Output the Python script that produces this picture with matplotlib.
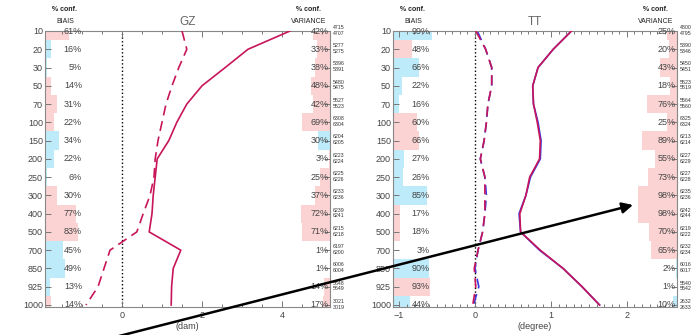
import numpy as np
import matplotlib.pyplot as plt
from matplotlib.ticker import MultipleLocator
from matplotlib.patches import FancyArrowPatch

plt.rcParams['font.family'] = ['Liberation Sans', 'DejaVu Sans']

levels = ['10', '20', '30', '50', '70', '100', '150', '200', '250', '300',
          '400', '500', '700', '850', '925', '1000']

# GZ panel
gz_std_red = [4.2, 3.15, 2.58, 2.0, 1.62, 1.37, 1.17, 0.88, 0.83, 0.78,
              0.75, 0.68, 1.47, 1.28, 1.24, 1.23]
gz_bias_red = [1.5, 1.62, 1.42, 1.25, 1.1, 1.0, 0.9, 0.83, 0.8, 0.7,
               0.53, 0.37, -0.3, -0.45, -0.6, -0.9]
gz_bias_pct = [61, 16, 5, 14, 31, 22, 34, 22, 6, 30, 77, 83, 45, 49, 13, 14]
gz_bias_sign = [1, -1, -1, 1, 1, 1, -1, -1, -1, 1, 1, 1, -1, -1, -1, 1]
gz_var_pct = [42, 33, 38, 48, 42, 69, 30, 3, 25, 37, 72, 71, 1, 1, 14, 17]
gz_var_sign = [1, 1, 1, 1, 1, 1, -1, 1, 1, 1, 1, 1, -1, -1, 1, 1]
gz_count_a = [4715, 5277, 5396, 5480, 5527, 6308, 6204, 6223, 6225, 6233,
              6239, 6215, 6197, 6006, 5648, 3021]
gz_count_b = [4707, 5275, 5391, 5475, 5523, 6304, 6205, 6224, 6226, 6236,
              6241, 6218, 6200, 6004, 5649, 3019]

# TT panel
tt_std_red = [1.27, 1.03, 0.83, 0.76, 0.77, 0.82, 0.86, 0.85, 0.72, 0.67,
              0.59, 0.60, 0.86, 1.16, 1.41, 1.64]
tt_std_blue = [1.27, 1.03, 0.83, 0.76, 0.77, 0.83, 0.87, 0.86, 0.73, 0.67,
               0.58, 0.60, 0.85, 1.16, 1.41, 1.64]
tt_bias_red = [0.01, 0.14, 0.22, 0.22, 0.17, 0.15, 0.12, 0.07, 0.13, 0.13,
               0.13, 0.10, 0.04, -0.01, 0.01, -0.03]
tt_bias_blue = [0.03, 0.14, 0.22, 0.22, 0.17, 0.15, 0.12, 0.07, 0.13, 0.15,
                0.13, 0.10, 0.04, 0.0, 0.05, -0.02]
tt_bias_pct = [99, 48, 66, 22, 16, 60, 66, 27, 26, 85, 17, 18, 3, 90, 93, 44]
tt_bias_sign = [-1, 1, -1, -1, -1, 1, 1, -1, -1, -1, 1, 1, -1, -1, 1, -1]
tt_var_pct = [25, 20, 43, 18, 76, 25, 89, 55, 73, 98, 98, 70, 65, 2, 1, 10]
tt_var_sign = [1, 1, 1, 1, 1, 1, 1, 1, 1, 1, 1, 1, 1, -1, -1, -1]
tt_count_a = [4800, 5390, 5450, 5523, 5564, 6325, 6213, 6227, 6227, 6235,
              6242, 6219, 6232, 6016, 5540, 2632]
tt_count_b = [4795, 5346, 5451, 5519, 5560, 6324, 6214, 6229, 6228, 6236,
              6244, 6222, 6234, 6017, 5542, 2633]

PINK = '#fbd3d3'
BLUE = '#bdebfa'
RED = '#c8155a'
NAVY = '#3a3ae0'
TXT = '#444444'


def draw_panel(ax, title, unit, xlim, major, minor, std, bias, bias_pct,
               bias_sign, var_pct, var_sign, count_a, count_b,
               std_blue=None, bias_blue=None):
    y = np.arange(len(levels))
    span = xlim[1] - xlim[0]
    frac = 0.14

    # confidence bars
    bw = np.array(bias_pct) / 100 * frac * span
    ax.barh(y, bw, left=xlim[0], height=1.0,
            color=[PINK if s > 0 else BLUE for s in bias_sign], lw=0, zorder=0)
    vw = np.array(var_pct) / 100 * frac * span
    ax.barh(y, -vw, left=xlim[1], height=1.0,
            color=[PINK if s > 0 else BLUE for s in var_sign], lw=0, zorder=0)

    ax.axvline(0, color='k', ls=':', lw=1.0, zorder=1)

    if std_blue is not None:
        ax.plot(std_blue, y, color=NAVY, lw=1.2, zorder=2)
        ax.plot(bias_blue, y, color=NAVY, lw=1.2, dashes=(6, 3.5), zorder=2)
    ax.plot(std, y, color=RED, lw=1.2, zorder=3)
    ax.plot(bias, y, color=RED, lw=1.2, dashes=(6, 3.5), zorder=3)

    tr = ax.get_yaxis_transform()
    for i in range(len(levels)):
        ax.text(0.13, i, f'{bias_pct[i]}%', transform=tr, ha='right',
                va='center', fontsize=6.5, color=TXT)
        ax.text(0.995, i, f'{var_pct[i]}%', transform=tr, ha='right',
                va='center', fontsize=6.5, color=TXT)
        ax.text(1.01, i - 0.2, str(count_a[i]), transform=tr, ha='left',
                va='center', fontsize=3.8, color='#333', clip_on=False)
        ax.text(1.01, i + 0.12, str(count_b[i]), transform=tr, ha='left',
                va='center', fontsize=3.8, color='#333', clip_on=False)

    ax.set_xlim(*xlim)
    ax.set_ylim(len(levels) - 1 + 0.11, 0)
    ax.set_yticks(y)
    ax.set_yticklabels(levels)
    ax.xaxis.set_major_locator(MultipleLocator(major))
    ax.xaxis.set_minor_locator(MultipleLocator(minor))
    ax.tick_params(axis='y', direction='in', left=True, right=True,
                   length=4, width=0.7, color='#777', labelsize=6.5,
                   labelcolor=TXT, pad=1.5)
    ax.tick_params(axis='x', which='both', direction='in', top=True,
                   bottom=True, color='#777', width=0.7, labelsize=6.5,
                   labelcolor=TXT, pad=3)
    ax.tick_params(axis='x', which='major', length=4)
    ax.tick_params(axis='x', which='minor', length=2.5)
    for sp in ax.spines.values():
        sp.set_color('#888')
        sp.set_linewidth(0.8)

    ax.set_xlabel(unit, fontsize=6.5, color=TXT, labelpad=1)
    ax.text(0.5, 1.033, title, transform=ax.transAxes, ha='center',
            va='center', fontsize=8.5, color='#666')
    for xc, name in ((0.07, 'BIAIS'), (0.925, 'VARIANCE')):
        ax.text(xc, 1.078, '% conf.', transform=ax.transAxes, ha='center',
                va='center', fontsize=5.0, color='#222', fontweight='bold')
        ax.text(xc, 1.034, name, transform=ax.transAxes, ha='center',
                va='center', fontsize=5.0, color='#222')


fig = plt.figure(figsize=(6.95, 3.35), dpi=100)
ax1 = fig.add_axes([45 / 695, 28 / 335, 285 / 695, 276 / 335])
ax2 = fig.add_axes([393 / 695, 28 / 335, 284 / 695, 276 / 335])

draw_panel(ax1, 'GZ', '(dam)', (-1.925, 5.2), 2, 0.5, gz_std_red,
           gz_bias_red, gz_bias_pct, gz_bias_sign, gz_var_pct, gz_var_sign,
           gz_count_a, gz_count_b)
draw_panel(ax2, 'TT', '(degree)', (-1.08, 2.66), 1, 0.1, tt_std_red,
           tt_bias_red, tt_bias_pct, tt_bias_sign, tt_var_pct, tt_var_sign,
           tt_count_a, tt_count_b, tt_std_blue, tt_bias_blue)

arrow = FancyArrowPatch((110 / 695, -0.01), (633 / 695, 1 - 205 / 335),
                        transform=fig.transFigure, arrowstyle='-|>',
                        mutation_scale=16, lw=1.8, color='black',
                        shrinkA=0, shrinkB=0, zorder=10)
fig.add_artist(arrow)

fig.savefig('out.png', dpi=100)
